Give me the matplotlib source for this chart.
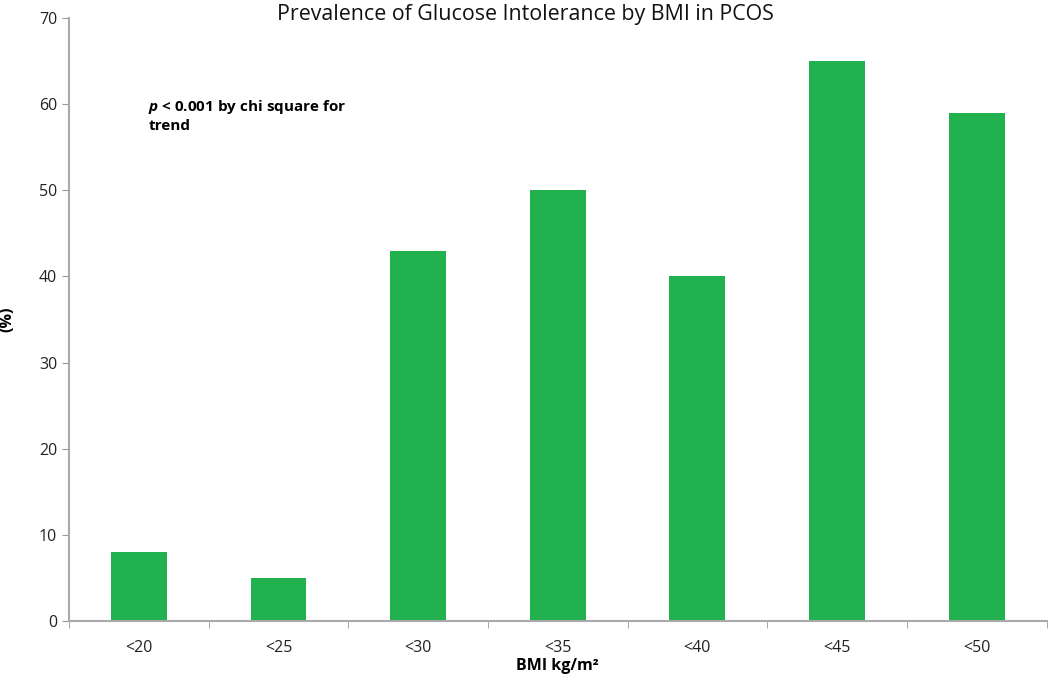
import numpy as np
import matplotlib
matplotlib.use('Agg')
import matplotlib.pyplot as plt

plt.rcParams['font.family'] = ['Open Sans', 'DejaVu Sans']
plt.rcParams['mathtext.fontset'] = 'custom'
plt.rcParams['mathtext.it'] = 'Open Sans:italic:bold'

categories = ['<20', '<25', '<30', '<35', '<40', '<45', '<50']
prevalence = [8, 5, 43, 50, 40, 65, 59]

fig = plt.figure(figsize=(10.5, 6.83), dpi=100)
ax = fig.add_axes([0.0657, 0.0908, 0.931, 0.8828])

x = np.arange(len(categories))
ax.bar(x, prevalence, width=0.4, color='#22b14f')

ax.set_xlim(-0.5, len(categories) - 0.5)
ax.set_ylim(0, 70)
ax.set_yticks(range(0, 71, 10))

# category labels centred, tick marks on the boundaries
ax.set_xticks(x)
ax.set_xticklabels(categories, fontsize=11.5, color='#222222')
ax.tick_params(axis='x', length=0, pad=14)
ax.set_xticks(np.arange(-0.5, len(categories), 1), minor=True)
ax.tick_params(axis='x', which='minor', length=5, color='#999999', direction='out')
ax.tick_params(axis='y', length=5, color='#999999', labelsize=11.5, labelcolor='#222222')

for s in ['top', 'right']:
    ax.spines[s].set_visible(False)
for s in ['left', 'bottom']:
    ax.spines[s].set_color('#aaaaaa')
    ax.spines[s].set_linewidth(1.5)

ax.set_xlabel('BMI kg/m²', fontsize=11.5, fontweight='bold', labelpad=1)
ax.set_ylabel('(%)', fontsize=11.5, fontweight='bold')
ax.yaxis.set_label_coords(-0.055, 0.5)
fig.text(0.5, 0.994, 'Prevalence of Glucose Intolerance by BMI in PCOS',
         ha='center', va='top', fontsize=15.4, color='#111111')

ax.text(0.081, 0.868, '$p$ < 0.001 by chi square for\ntrend',
        transform=ax.transAxes,
        fontsize=11, fontweight='bold', va='top', ha='left', linespacing=1.3)

fig.savefig('out.png', dpi=100)
